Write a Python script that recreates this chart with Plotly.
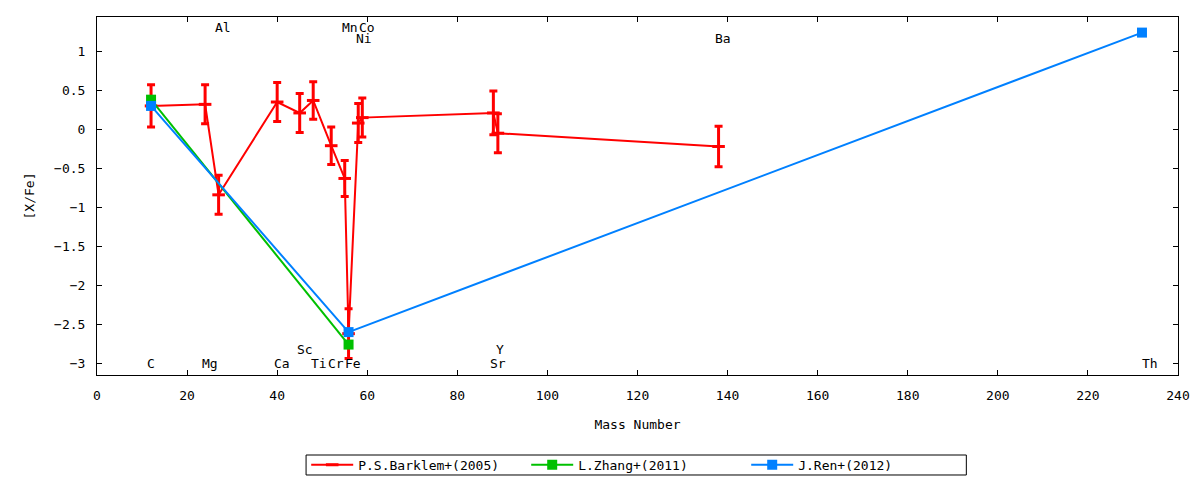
import plotly.graph_objects as go

# P.S.Barklem+(2005): mass number, [X/Fe], error
barklem_x = [12, 24, 27, 40, 45, 48, 52, 55, 55.85, 58.0, 58.9, 88, 89, 138]
barklem_y = [0.30, 0.32, -0.84, 0.35, 0.21, 0.37, -0.21, -0.63, -2.62, 0.08, 0.15, 0.21, -0.05, -0.22]
barklem_err = [0.27, 0.25, 0.25, 0.25, 0.25, 0.24, 0.24, 0.23, 0.32, 0.25, 0.25, 0.28, 0.25, 0.26]

# L.Zhang+(2011)
zhang_x = [12, 55.85]
zhang_y = [0.38, -2.76]

# J.Ren+(2012)
ren_x = [12, 55.85, 232]
ren_y = [0.30, -2.60, 1.24]

# element labels
lab_text = ["C", "Mg", "Al", "Ca", "Sc", "Ti", "Cr", "Mn", "Fe", "Co", "Ni", "Sr", "Y", "Ba", "Th"]
lab_x = [11.2, 23.4, 26.3, 39.4, 44.3, 47.6, 51.3, 54.3, 55.0, 58.1, 57.4, 87.2, 88.5, 137.2, 231.9]
lab_y = [-3.0, -3.0, 1.30, -3.0, -2.82, -3.0, -3.0, 1.30, -3.0, 1.30, 1.17, -3.0, -2.82, 1.17, -3.0]

x_ticks = list(range(0, 241, 20))
y_ticks = [1, 0.5, 0, -0.5, -1, -1.5, -2, -2.5, -3]

MONO = "DejaVu Sans Mono"
RED, GREEN, BLUE = "#ff0000", "#00c000", "#0080ff"

fig = go.Figure()

fig.add_trace(go.Scatter(
    x=barklem_x, y=barklem_y, name="P.S.Barklem+(2005)",
    mode="lines+markers",
    line=dict(color=RED, width=2),
    marker=dict(symbol="line-ew", size=9, line=dict(color=RED, width=3)),
    error_y=dict(type="data", array=barklem_err, color=RED, thickness=3, width=4),
))
fig.add_trace(go.Scatter(
    x=zhang_x, y=zhang_y, name="L.Zhang+(2011)",
    mode="lines+markers",
    line=dict(color=GREEN, width=2),
    marker=dict(symbol="square", size=10, color=GREEN),
))
fig.add_trace(go.Scatter(
    x=ren_x, y=ren_y, name="J.Ren+(2012)",
    mode="lines+markers",
    line=dict(color=BLUE, width=2),
    marker=dict(symbol="square", size=10, color=BLUE),
))

for t, x, y in zip(lab_text, lab_x, lab_y):
    fig.add_annotation(x=x, y=y, text=t, showarrow=False, xanchor="left", yanchor="middle",
                       xshift=-2, font=dict(family=MONO, size=13, color="black"))

axis_common = dict(
    showline=True, linecolor="black", linewidth=1, mirror="ticks",
    ticks="inside", ticklen=5, tickcolor="black", showgrid=False, zeroline=False,
    tickfont=dict(family=MONO, size=13, color="black"),
)

fig.update_xaxes(range=[0, 240], tickvals=x_ticks, ticklabelstandoff=8,
                 title=dict(text="Mass Number", font=dict(family=MONO, size=13), standoff=18),
                 **axis_common)
fig.update_yaxes(range=[-3.15, 1.44], tickvals=y_ticks, ticklabelstandoff=8,
                 title=dict(text="[X/Fe]", font=dict(family=MONO, size=13), standoff=16),
                 **axis_common)

# legend frame (gnuplot-style thin box under the plot)
fig.add_shape(type="rect", xref="paper", yref="paper",
              x0=0.1934, x1=0.8042, y0=-0.2235, y1=-0.2793,
              line=dict(color="black", width=1), fillcolor="rgba(0,0,0,0)")

# page has an 8px body margin, so the figure is 1192x472
fig.update_layout(
    width=1192, height=472,
    margin=dict(l=89, r=22, t=9, b=105, autoexpand=False),
    paper_bgcolor="white", plot_bgcolor="white",
    font=dict(family=MONO, size=13, color="black"),
    legend=dict(orientation="h", x=0.4988, xanchor="center",
                yref="container", y=0.032, yanchor="middle",
                bgcolor="rgba(0,0,0,0)", borderwidth=0, itemwidth=42,
                entrywidth=163, entrywidthmode="pixels",
                font=dict(family=MONO, size=13)),
)

fig.write_html("out.html")
